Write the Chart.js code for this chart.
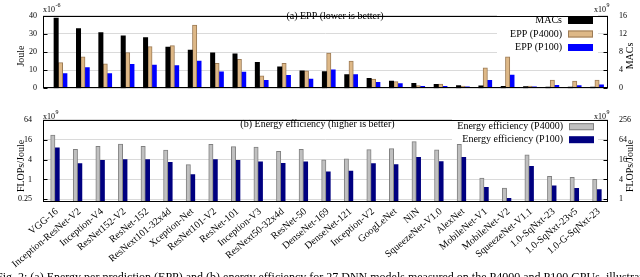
<!DOCTYPE html>
<html>
<head>
<meta charset="utf-8">
<script src="https://cdn.jsdelivr.net/npm/chart.js@4.4.1/dist/chart.umd.min.js"></script>
<style>
  html, body { margin: 0; padding: 0; background: #fff; }
  body { width: 640px; height: 277px; position: relative; overflow: hidden; font-family: "Liberation Serif", serif; }
  #eppBox { position: absolute; left: 0; top: 0; width: 640px; height: 104px; }
  #effBox { position: absolute; left: 0; top: 104px; width: 640px; height: 173px; }
  #caption { position: absolute; left: -4px; top: 270px; font-size: 12px; white-space: nowrap; color: #000; }
</style>
</head>
<body>
<div id="eppBox"><canvas id="eppChart"></canvas></div>
<div id="effBox"><canvas id="effChart"></canvas></div>
<div id="caption">Fig. 2: (a) Energy per prediction (EPP) and (b) energy efficiency for 27 DNN models measured on the P4000 and P100 GPUs, illustrating</div>
<script>
// ===== Data =====
const categories = [
    "VGG-16", "Inception-ResNet-V2", "Inception-V4", "ResNet152-V2", "ResNet-152",
    "ResNext101-32x4d", "Xception-Net", "ResNet101-V2", "ResNet-101", "Inception-V3",
    "ResNext50-32x4d", "ResNet-50", "DenseNet-169", "DenseNet-121", "Inception-V2",
    "GoogLeNet", "NiN", "SqueezeNet-V1.0", "AlexNet", "MobileNet-V1",
    "MobileNet-V2", "SqueezeNet-V1.1", "1.0-SqNxt-23", "1.0-SqNxt-23v5", "1.0-G-SqNxt-23"
];

// (a) MACs in x10^9, EPP in x10^-6 Joule
const macs = [15.5, 13.2, 12.3, 11.6, 11.2, 9.1, 8.4, 7.8, 7.6, 5.7,
              4.75, 3.85, 3.7, 3.0, 2.2, 1.6, 1.1, 0.84, 0.6, 0.54,
              0.42, 0.36, 0.24, 0.24, 0.24];
const eppP4000 = [14.1, 17.4, 13.5, 19.7, 23.0, 23.5, 34.9, 13.7, 15.9, 6.9,
                  13.8, 9.6, 19.4, 15.0, 5.1, 3.6, 1.5, 2.3, 1.2, 11.3,
                  17.3, 1.2, 4.5, 4.0, 4.5];
const eppP100 = [8.1, 11.4, 8.1, 13.2, 12.8, 12.5, 15.0, 9.0, 8.9, 4.4,
                 7.1, 5.1, 10.1, 7.5, 3.2, 2.6, 1.05, 1.05, 0.75, 4.4,
                 7.2, 0.75, 1.6, 1.4, 1.8];

// (b) energy efficiency in x10^9 FLOPs/Joule
const effP4000 = [22.1, 8.2, 10.1, 11.8, 10.1, 7.8, 2.8, 11.6, 9.9, 9.6,
                  7.1, 8.2, 3.9, 4.2, 8.0, 8.6, 13.9, 7.9, 11.6, 1.1,
                  0.55, 5.6, 1.25, 1.15, 1.0];
const effP100 = [9.0, 3.0, 3.8, 4.0, 4.0, 3.3, 1.4, 4.0, 3.8, 3.4,
                 3.1, 3.4, 1.7, 1.8, 3.0, 2.8, 4.7, 3.5, 4.7, 0.58,
                 0.27, 2.5, 0.64, 0.54, 0.49];

// tick labels
const jouleTicks = [0, 5, 10, 15, 20, 25, 30, 35, 40];
const macTicks = [0, 2, 4, 6, 8, 10, 12, 14, 16];
const effTicks = [0.25, 1, 4, 16, 64];
const effRightTicks = [1, 4, 16, 64, 256];

const serif = '"Liberation Serif", "Times New Roman", serif';
const points = arr => arr.map((v, i) => ({ x: i, y: v }));
const fixTicks = list => scale => { scale.ticks = list.map(v => ({ value: v })); };

// ===== gnuplot look: frame, inner tics, titles, exponents, legend =====
const gnuplotLook = {
    id: 'gnuplotLook',
    beforeDatasetsDraw(chart, args, o) {
        const ctx = chart.ctx;
        ctx.save();
        ctx.fillStyle = '#fff';
        ctx.fillRect(o.legendBg[0], o.legendBg[1], o.legendBg[2], o.legendBg[3]);
        ctx.restore();
    },
    afterDraw(chart, args, o) {
        const { ctx, chartArea: a } = chart;
        ctx.save();
        ctx.strokeStyle = '#000';
        ctx.lineWidth = 1;
        const L = Math.round(a.left) + 0.5, R = Math.round(a.right) - 0.5;
        const T = Math.round(a.top) + 0.5, B = Math.round(a.bottom) - 0.5;
        ctx.strokeRect(L, T, R - L, B - T);

        // inward tick marks
        ['y', 'y1'].forEach(id => {
            const s = chart.scales[id];
            const x0 = id === 'y' ? L : R;
            const dir = id === 'y' ? 1 : -1;
            s.ticks.forEach(t => {
                const py = Math.round(s.getPixelForValue(t.value)) + 0.5;
                ctx.beginPath();
                ctx.moveTo(x0, py);
                ctx.lineTo(x0 + dir * 4, py);
                ctx.stroke();
            });
        });

        ctx.fillStyle = '#000';
        ctx.textBaseline = 'middle';
        ctx.font = '10px ' + serif;

        // panel title
        ctx.textAlign = 'center';
        ctx.fillText(o.title, o.titleX, o.titleY);

        // axis titles (both read bottom to top)
        [[o.leftTitle, 21], [o.rightTitle, 630.5]].forEach(([txt, x]) => {
            ctx.save();
            ctx.translate(x, o.axisTitleY);
            ctx.rotate(-Math.PI / 2);
            ctx.fillText(txt, 0, 0);
            ctx.restore();
        });

        // x10^n exponents
        ctx.textBaseline = 'alphabetic';
        ctx.textAlign = 'left';
        const drawExp = (x, base, sup, alignRight) => {
            ctx.font = '8px ' + serif;
            const w1 = ctx.measureText('x10').width;
            ctx.font = '6px ' + serif;
            const w2 = ctx.measureText(sup).width;
            const x0 = alignRight ? x - w1 - w2 : x;
            ctx.font = '8px ' + serif;
            ctx.fillText('x10', x0, base);
            ctx.font = '6px ' + serif;
            ctx.fillText(sup, x0 + w1 + 0.5, base - 5);
        };
        drawExp(43, o.expY, o.leftExp, false);
        drawExp(609, o.expY, o.rightExp, true);

        // legend: text right aligned, sample box on the right
        ctx.font = '10px ' + serif;
        ctx.textBaseline = 'middle';
        chart.data.datasets.forEach((ds, i) => {
            const y = o.legendY + i * o.legendStep;
            ctx.fillStyle = '#000';
            ctx.textAlign = 'right';
            ctx.fillText(ds.label, o.legendTextX, y);
            ctx.fillStyle = ds.backgroundColor;
            ctx.fillRect(o.legendBoxX, y - 3.5, 25, 7);
            if (ds.borderWidth) {
                ctx.strokeStyle = ds.borderColor;
                ctx.strokeRect(o.legendBoxX + 0.5, y - 3, 24, 6);
            }
        });
        ctx.restore();
    }
};

const tickFont = { family: serif, size: 8 };
const noLegend = { legend: { display: false }, tooltip: { enabled: false } };

// ===== (a) EPP chart =====
new Chart(document.getElementById('eppChart'), {
    type: 'bar',
    data: {
        datasets: [
            { label: 'MACs', data: points(macs), yAxisID: 'y1',
              backgroundColor: '#000000', borderColor: '#000000', borderWidth: 0 },
            { label: 'EPP (P4000)', data: points(eppP4000), yAxisID: 'y',
              backgroundColor: '#deb887', borderColor: '#9c7b55', borderWidth: 1 },
            { label: 'EPP (P100)', data: points(eppP100), yAxisID: 'y',
              backgroundColor: '#0000ff', borderColor: '#0000ff', borderWidth: 0 }
        ]
    },
    options: {
        responsive: true,
        maintainAspectRatio: false,
        animation: false,
        barThickness: 4.35,
        layout: { padding: { top: 11, bottom: 5, left: 0, right: 0 } },
        scales: {
            x: { type: 'linear', min: -0.783, max: 24.49, offset: false,
                 grid: { offset: false }, display: false },
            y: {
                position: 'left', min: 0, max: 40,
                afterBuildTicks: fixTicks(jouleTicks),
                afterFit: s => { s.width = 43; },
                ticks: { font: tickFont, color: '#000', padding: 6 },
                grid: { color: '#dadada', drawTicks: false },
                border: { display: false }
            },
            y1: {
                position: 'right', min: 0, max: 16,
                afterBuildTicks: fixTicks(macTicks),
                afterFit: s => { s.width = 32; },
                ticks: { font: tickFont, color: '#000', padding: 11 },
                grid: { display: false, drawTicks: false },
                border: { display: false }
            }
        },
        plugins: Object.assign({
            gnuplotLook: {
                title: '(a) EPP (lower is better)', titleX: 335, titleY: 16,
                leftTitle: 'Joule', rightTitle: 'MACs', axisTitleY: 56,
                leftExp: '-6', rightExp: '9', expY: 11.5,
                legendBg: [497, 11.5, 101, 42],
                legendTextX: 562, legendBoxX: 568, legendY: 20.5, legendStep: 13.5
            }
        }, noLegend)
    },
    plugins: [gnuplotLook]
});

// ===== (b) Energy efficiency chart =====
new Chart(document.getElementById('effChart'), {
    type: 'bar',
    data: {
        datasets: [
            { label: 'Energy efficiency (P4000)', data: points(effP4000),
              backgroundColor: '#c0c0c0', borderColor: '#808080', borderWidth: 1 },
            { label: 'Energy efficiency (P100)', data: points(effP100),
              backgroundColor: '#000080', borderColor: '#000080', borderWidth: 0 }
        ]
    },
    options: {
        responsive: true,
        maintainAspectRatio: false,
        animation: false,
        barThickness: 4.35,
        layout: { padding: { top: 14, bottom: 0, left: 0, right: 0 } },
        scales: {
            x: {
                type: 'linear', min: -0.531, max: 24.49, offset: false,
                afterBuildTicks: fixTicks(categories.map((c, i) => i)),
                afterFit: s => { s.height = 75.3; },
                ticks: {
                    autoSkip: false, minRotation: 40, maxRotation: 40,
                    font: { family: serif, size: 10 }, color: '#000',
                    padding: 4, labelOffset: 2,
                    callback: v => categories[v]
                },
                grid: { display: false, drawTicks: false, offset: false },
                border: { display: false }
            },
            y: {
                type: 'logarithmic', position: 'left', min: 0.212, max: 64,
                afterBuildTicks: fixTicks(effTicks),
                afterFit: s => { s.width = 43; },
                ticks: { font: tickFont, color: '#000', padding: 11, callback: v => String(v) },
                grid: { color: '#dadada', drawTicks: false },
                border: { display: false }
            },
            y1: {
                type: 'logarithmic', position: 'right', min: 0.848, max: 256,
                afterBuildTicks: fixTicks(effRightTicks),
                afterFit: s => { s.width = 32; },
                ticks: { font: tickFont, color: '#000', padding: 11, callback: v => String(v) },
                grid: { display: false, drawTicks: false },
                border: { display: false }
            }
        },
        plugins: Object.assign({
            gnuplotLook: {
                title: '(b) Energy efficiency (higher is better)', titleX: 317.5, titleY: 20,
                leftTitle: 'FLOPs/Joule', rightTitle: 'FLOPs/Joule', axisTitleY: 62,
                leftExp: '9', rightExp: '9', expY: 14.8,
                legendBg: [452, 15, 146, 27],
                legendTextX: 563, legendBoxX: 569, legendY: 22.7, legendStep: 13
            }
        }, noLegend)
    },
    plugins: [gnuplotLook]
});
</script>
</body>
</html>
